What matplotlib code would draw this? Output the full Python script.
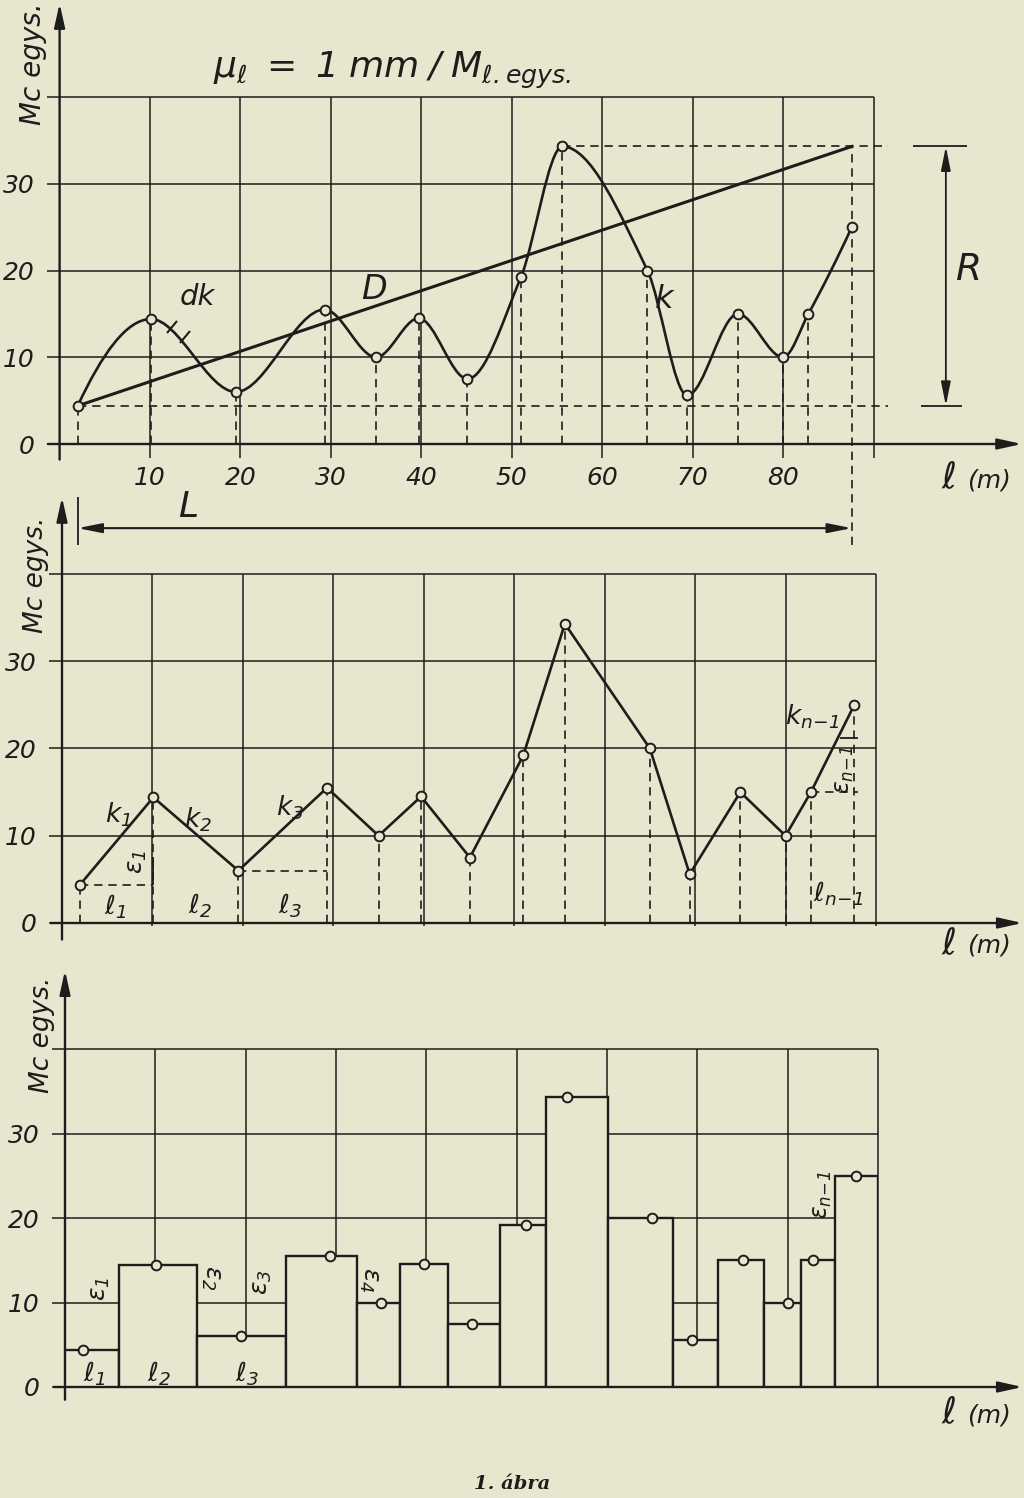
import numpy as np
import matplotlib
matplotlib.use("Agg")
import matplotlib.pyplot as plt
from matplotlib.path import Path
from matplotlib.patches import PathPatch
from matplotlib.markers import MarkerStyle
from matplotlib.transforms import Affine2D

# ---------------- data ----------------
l_pos = [2.0, 10.1, 19.5, 29.3, 35.0, 39.7, 45.1, 51.0, 55.6, 65.0, 69.4, 75.0, 80.0, 82.8, 87.6]
mc_val = [4.4, 14.4, 6.0, 15.5, 10.0, 14.5, 7.5, 19.2, 34.3, 20.0, 5.6, 15.0, 10.0, 15.0, 25.0]
bar_edges = [0.0, 6.0, 14.6, 24.5, 32.3, 37.1, 42.4, 48.1, 53.2, 60.1, 67.3, 72.3, 77.4, 81.5, 85.2, 90.0]
x_ticks = [0, 10, 20, 30, 40, 50, 60, 70, 80, 90]
x_ticklabels = ["", "10", "20", "30", "40", "50", "60", "70", "80", ""]
y_ticks = [0, 10, 20, 30, 40]
y_ticklabels = ["0", "10", "20", "30", ""]

BG = "#e9e6d0"
INK = "#1d1d1b"
W, H = 1024, 1498

plt.rcParams["font.family"] = ["DejaVu Sans"]
plt.rcParams["font.style"] = "italic"
plt.rcParams["mathtext.fontset"] = "custom"
plt.rcParams["mathtext.rm"] = "DejaVu Sans:italic"
plt.rcParams["mathtext.it"] = "DejaVu Sans:italic"
plt.rcParams["mathtext.sf"] = "DejaVu Sans:italic"

fig = plt.figure(figsize=(W / 100, H / 100), dpi=100, facecolor=BG)


def px_box(x0, x1, y_bot, y_top):
    return [x0 / W, 1 - y_bot / H, (x1 - x0) / W, (y_bot - y_top) / H]


def fx(px):
    return px / W


def fy(py):
    return 1 - py / H


DASH = (0, (5, 3.5))
GRID_LW = 1.1


def setup(ax, tick_ext, show_xlabels, ylab_pad, xlab_pad):
    ax.set_xlim(0, 90)
    ax.set_ylim(0, 40)
    ax.set_facecolor("none")
    for s in ax.spines.values():
        s.set_visible(False)
    ax.vlines(x_ticks[1:], -tick_ext, y_ticks[-1], color=INK, lw=GRID_LW, zorder=0.5, clip_on=False)
    ax.hlines(y_ticks[1:], -1.4, x_ticks[-1], color=INK, lw=GRID_LW, zorder=0.5, clip_on=False)
    ax.set_xticks(x_ticks, x_ticklabels if show_xlabels else [""] * len(x_ticks))
    ax.set_yticks(y_ticks, y_ticklabels)
    ax.tick_params(length=0, labelsize=18, colors=INK)
    ax.tick_params(axis="y", pad=ylab_pad)
    ax.tick_params(axis="x", pad=xlab_pad)


def axis_arrows(ax, ybot, ytop, xleft, xright):
    ap = dict(arrowstyle="-|>,head_length=0.9,head_width=0.2", lw=1.7, color=INK,
              shrinkA=0, shrinkB=0, mutation_scale=16)
    ax.annotate("", xy=(0, ytop), xytext=(0, ybot), arrowprops=ap, annotation_clip=False)
    ax.annotate("", xy=(xright, 0), xytext=(xleft, 0), arrowprops=ap, annotation_clip=False)


def pchip_slopes(x, y):
    x = np.asarray(x, float)
    y = np.asarray(y, float)
    h = np.diff(x)
    d = np.diff(y) / h
    n = len(x)
    m = np.zeros(n)
    for k in range(1, n - 1):
        if d[k - 1] * d[k] <= 0:
            m[k] = 0.0
        else:
            w1 = 2 * h[k] + h[k - 1]
            w2 = h[k] + 2 * h[k - 1]
            m[k] = (w1 + w2) / (w1 / d[k - 1] + w2 / d[k])

    def end(h0, h1, d0, d1):
        s = ((2 * h0 + h1) * d0 - h0 * d1) / (h0 + h1)
        if np.sign(s) != np.sign(d0):
            s = 0.0
        elif np.sign(d0) != np.sign(d1) and abs(s) > abs(3 * d0):
            s = 3 * d0
        return s

    m[0] = end(h[0], h[1], d[0], d[1])
    m[-1] = end(h[-1], h[-2], d[-1], d[-2])
    return m


def smooth_path(x, y):
    m = pchip_slopes(x, y)
    verts = [(x[0], y[0])]
    codes = [Path.MOVETO]
    for i in range(len(x) - 1):
        h = x[i + 1] - x[i]
        verts += [(x[i] + h / 3, y[i] + m[i] * h / 3),
                  (x[i + 1] - h / 3, y[i + 1] - m[i + 1] * h / 3),
                  (x[i + 1], y[i + 1])]
        codes += [Path.CURVE4] * 3
    return Path(verts, codes)


def points(ax):
    ax.plot(l_pos, mc_val, "o", ms=7, mfc=BG, mec=INK, mew=1.4, zorder=6, clip_on=False)


def lab(ax, x, y, s, size=19, rot=0):
    ax.text(x, y, s, fontsize=size, color=INK, ha="center", va="center", rotation=rot,
            zorder=7, clip_on=False)


mc_max = max(mc_val)
mc_min = min(mc_val)
i_max = mc_val.index(mc_max)
i_min = mc_val.index(mc_min)

# ====================== panel 1 ======================
ax1 = fig.add_axes(px_box(59.6, 873.5, 444, 97))
setup(ax1, 1.6, True, 18, 16)
axis_arrows(ax1, -1.8, 50.8, -1.3, 106.4)
L_y = -9.7
# dashed projections
ax1.vlines(l_pos[:-1], 0, mc_val[:-1], colors=INK, lw=1.2, linestyles=[DASH], zorder=2)
ax1.vlines([l_pos[-1]], L_y - 1.9, mc_max, colors=INK, lw=1.2, linestyles=[DASH], zorder=2, clip_on=False)
ax1.hlines([mc_min, mc_max], [l_pos[i_min], l_pos[i_max]], 91.6, colors=INK, lw=1.2,
           linestyles=[DASH], zorder=2, clip_on=False)
# smooth curve k
ax1.add_patch(PathPatch(smooth_path(l_pos, mc_val), fill=False, lw=1.9, ec=INK, zorder=4))
# line D
ax1.plot([l_pos[0], l_pos[-1]], [mc_val[0], mc_max], color=INK, lw=2.2, zorder=4)
points(ax1)
# dk marks
ax1.plot([12.4, 13.9], [13.5, 12.3], ls="none",
         marker=MarkerStyle("|", transform=Affine2D().rotate_deg(-40)),
         ms=11, mew=1.5, color=INK, zorder=5)
lab(ax1, 15.2, 16.9, "dk", 21)
lab(ax1, 34.8, 17.8, "D", 24)
lab(ax1, 66.8, 16.6, "k", 23)
# R dimension
ax1.hlines([mc_max, mc_min], [94.4, 95.3], [100.3, 99.8], colors=INK, lw=1.3, clip_on=False)
ax1.annotate("", xy=(98.0, mc_max), xytext=(98.0, mc_min),
             arrowprops=dict(arrowstyle="<|-|>,head_length=0.9,head_width=0.18", lw=1.3,
                             color=INK, shrinkA=0, shrinkB=0, mutation_scale=16),
             annotation_clip=False)
lab(ax1, 100.6, 20.0, "R", 27)
# L dimension
ax1.vlines([l_pos[0]], L_y - 1.9, L_y + 3.6, colors=INK, lw=1.3, clip_on=False)
ax1.annotate("", xy=(l_pos[-1], L_y), xytext=(l_pos[0], L_y),
             arrowprops=dict(arrowstyle="<|-|>,head_length=0.9,head_width=0.18", lw=1.5,
                             color=INK, shrinkA=0, shrinkB=0, mutation_scale=16),
             annotation_clip=False)
lab(ax1, 14.2, -7.3, "L", 26)

# ====================== panel 2 ======================
ax2 = fig.add_axes(px_box(62, 876, 923, 574))
setup(ax2, 0.4, False, 18, 16)
axis_arrows(ax2, -1.9, 48.8, -1.3, 106.2)
ax2.vlines(l_pos, 0, mc_val, colors=INK, lw=1.2, linestyles=[DASH], zorder=2)
ax2.hlines([mc_val[0], mc_val[2], mc_val[13]], [l_pos[0], l_pos[2], l_pos[13]],
           [l_pos[1], l_pos[3], 88.0], colors=INK, lw=1.2, linestyles=[DASH], zorder=2)
ax2.vlines([l_pos[1]], mc_val[0], mc_val[0] + 3.2, colors=INK, lw=1.3, zorder=3)
ax2.hlines([21.2], 86.0, 88.0, colors=INK, lw=1.3, zorder=3)
ax2.plot(l_pos, mc_val, color=INK, lw=1.9, zorder=4)
points(ax2)
lab(ax2, 6.2, 12.4, r"$k_1$")
lab(ax2, 15.0, 11.8, r"$k_2$")
lab(ax2, 25.2, 13.2, r"$k_3$")
lab(ax2, 8.3, 7.0, r"$\varepsilon_1$", 18, 90)
lab(ax2, 5.9, 1.9, r"$\ell_1$")
lab(ax2, 15.3, 2.0, r"$\ell_2$")
lab(ax2, 25.2, 2.0, r"$\ell_3$")
lab(ax2, 83.0, 23.6, r"$k_{n\!-\!1}$")
lab(ax2, 86.5, 17.6, r"$\varepsilon_{n\!-\!1}$", 17, 90)
lab(ax2, 85.8, 3.4, r"$\ell_{n\!-\!1}$")

# ====================== panel 3 ======================
ax3 = fig.add_axes(px_box(65, 878, 1387, 1049))
setup(ax3, 0.0, False, 18, 16)
axis_arrows(ax3, -1.5, 49.3, -1.3, 106.0)
ax3.bar(bar_edges[:-1], mc_val, width=np.diff(bar_edges), align="edge",
        facecolor=BG, edgecolor=INK, lw=1.7, zorder=3)
points(ax3)
lab(ax3, 3.9, 11.6, r"$\varepsilon_1$", 18, 90)
lab(ax3, 16.2, 12.9, r"$\varepsilon_2$", 18, -90)
lab(ax3, 21.8, 12.4, r"$\varepsilon_3$", 18, 90)
lab(ax3, 33.6, 12.7, r"$\varepsilon_4$", 18, -90)
lab(ax3, 3.2, 1.6, r"$\ell_1$")
lab(ax3, 10.4, 1.6, r"$\ell_2$")
lab(ax3, 20.1, 1.6, r"$\ell_3$")
lab(ax3, 83.8, 22.7, r"$\varepsilon_{n\!-\!1}$", 17, 90)

# ====================== figure texts ======================
fig.text(fx(392), fy(70), r"$\mu_\ell\ =\ 1\;mm\;/\;M_{\ell.egys.}$", fontsize=26,
         color=INK, ha="center", va="center")
for cx, cy, fs in [(33, 64, 20), (36, 575, 19), (42, 1035, 19)]:
    fig.text(fx(cx), fy(cy), "Mc egys.", fontsize=fs, color=INK, rotation=90,
             ha="center", va="center")
for cy in [478, 944, 1413]:
    fig.text(fx(949), fy(cy), "ℓ", fontsize=26, color=INK, ha="center", va="center")
    fig.text(fx(989), fy(cy + 2), "(m)", fontsize=18, color=INK, ha="center", va="center")
fig.text(fx(512), fy(1484), "1. ábra", fontsize=14, color=INK, ha="center", va="center",
         family="DejaVu Serif", weight="bold", style="italic")

fig.savefig("out.png", dpi=100, facecolor=BG)
